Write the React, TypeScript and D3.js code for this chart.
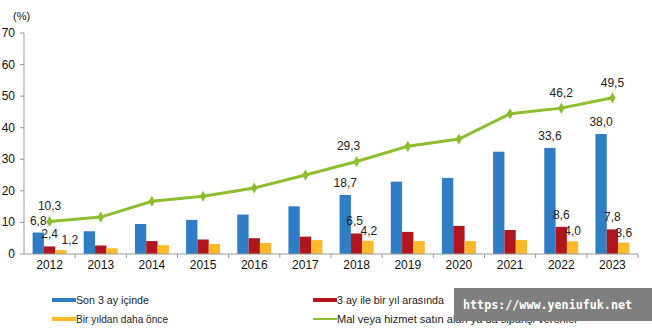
import React from "react";
import * as d3 from "d3";

const years = ["2012","2013","2014","2015","2016","2017","2018","2019","2020","2021","2022","2023"];
const son3Ay = [6.8, 7.2, 9.5, 10.8, 12.5, 15.1, 18.7, 22.9, 24.1, 32.4, 33.6, 38.0];
const ucAyBirYil = [2.4, 2.7, 4.1, 4.6, 5.0, 5.5, 6.5, 7.0, 8.9, 7.6, 8.6, 7.8];
const birYildanOnce = [1.2, 1.8, 2.8, 3.2, 3.5, 4.4, 4.2, 4.1, 4.1, 4.4, 4.0, 3.6];
const malHizmet = [10.3, 11.7, 16.7, 18.3, 20.9, 25.0, 29.3, 34.1, 36.4, 44.4, 46.2, 49.5];
const labelYears = ["2012", "2018", "2022", "2023"];
const yTicks = [0, 10, 20, 30, 40, 50, 60, 70];
const seriesNames = ["Son 3 ay içinde", "3 ay ile bir yıl arasında", "Bir yıldan daha önce", "Mal veya hizmet satın alan ya da siparişi verenler"];

const BLUE = "#2E7DC5";
const RED = "#B2161D";
const YELLOW = "#FDB92A";
const GREEN = "#8CBF2E";
const FONT = "'Liberation Sans', Arial, sans-serif";

const fmt = (v: number) => v.toFixed(1).replace(".", ",");

export default function App() {
  const W = 652, H = 331;
  const x = d3.scaleBand<string>().domain(years).range([24, 638]).padding(0);
  const inner = d3.scaleBand<string>().domain(["a", "b", "c"]).range([0, x.bandwidth()]).paddingInner(0).paddingOuter(0.76);
  const y = d3.scaleLinear().domain([0, 70]).range([254, 33]);
  const barSeries = [
    { key: "a", vals: son3Ay, color: BLUE, dy: -8 },
    { key: "b", vals: ucAyBirYil, color: RED, dy: -8 },
    { key: "c", vals: birYildanOnce, color: YELLOW, dy: -6 },
  ];
  const cx = (yr: string) => (x(yr) as number) + x.bandwidth() / 2;
  const line = d3.line<number>().x((_, i) => cx(years[i])).y((v) => y(v));

  return (
    <svg width={W} height={H} style={{ position: "absolute", left: 0, top: 0, background: "#fff" }} fontFamily={FONT}>
      <rect x={0} y={0} width={W} height={H} fill="#fff" />
      {/* y axis */}
      <line x1={24} x2={24} y1={y(70)} y2={y(0)} stroke="#999" strokeWidth={1} />
      {yTicks.map((t) => (
        <g key={t}>
          <line x1={20} x2={24} y1={y(t)} y2={y(t)} stroke="#999" />
          <text x={15} y={y(t) + 4} textAnchor="end" fontSize={12} fill="#111">{t}</text>
        </g>
      ))}
      <text x={13} y={20} fontSize={11} fill="#111">(%)</text>
      {/* bars */}
      {barSeries.map((s) =>
        years.map((yr, i) => (
          <rect key={s.key + yr} x={(x(yr) as number) + (inner(s.key) as number)} y={y(s.vals[i])}
            width={inner.bandwidth()} height={y(0) - y(s.vals[i])} fill={s.color} />
        ))
      )}
      {/* x axis */}
      <line x1={24} x2={638} y1={y(0)} y2={y(0)} stroke="#999" />
      {years.map((yr) => (
        <line key={"t" + yr} x1={(x(yr) as number) + x.bandwidth()} x2={(x(yr) as number) + x.bandwidth()} y1={y(0)} y2={y(0) + 4} stroke="#999" />
      ))}
      {years.map((yr) => (
        <text key={"l" + yr} x={cx(yr)} y={269} textAnchor="middle" fontSize={12} fill="#111">{yr}</text>
      ))}
      {/* line */}
      <path d={line(malHizmet) || ""} fill="none" stroke={GREEN} strokeWidth={3} />
      {malHizmet.map((v, i) => (
        <path key={"m" + i} d={d3.symbol(d3.symbolDiamond, 36)() || ""} transform={`translate(${cx(years[i])},${y(v)})`} fill={GREEN} />
      ))}
      {/* labels */}
      {barSeries.map((s) =>
        years.map((yr, i) => {
          if (!labelYears.includes(yr)) return null;
          const bx = (x(yr) as number) + (inner(s.key) as number) + inner.bandwidth() / 2;
          let extra = 0;
          if (s.key === "c" && yr === "2012") extra = 9;
          if (s.key === "b" && yr === "2018") extra = -2;
          if (s.key === "c" && yr === "2018") extra = 1;
          return (
            <text key={"bl" + s.key + yr} x={bx + extra} y={y(s.vals[i]) + s.dy} textAnchor="middle" fontSize={12} fill="#222">{fmt(s.vals[i])}</text>
          );
        })
      )}
      {years.map((yr, i) =>
        labelYears.includes(yr) ? (
          <text key={"ll" + yr} x={cx(yr) + (yr === "2018" ? -8 : 0)} y={y(malHizmet[i]) - 11} textAnchor="middle" fontSize={12} fill="#222">{fmt(malHizmet[i])}</text>
        ) : null
      )}
      {/* legend */}
      <rect x={52} y={298} width={24} height={4} fill={BLUE} />
      <text x={76} y={304} fontSize={11} fill="#222" textLength={73} lengthAdjust="spacingAndGlyphs">{seriesNames[0]}</text>
      <rect x={313} y={298} width={24} height={4} fill={RED} />
      <text x={337} y={304} fontSize={11} fill="#222" textLength={107} lengthAdjust="spacingAndGlyphs">{seriesNames[1]}</text>
      <rect x={52} y={317} width={24} height={4} fill={YELLOW} />
      <text x={76} y={323} fontSize={11} fill="#222" textLength={92} lengthAdjust="spacingAndGlyphs">{seriesNames[2]}</text>
      <line x1={313} x2={337} y1={319} y2={319} stroke={GREEN} strokeWidth={2} />
      <text x={337} y={323} fontSize={11} fill="#222" textLength={241} lengthAdjust="spacingAndGlyphs">{seriesNames[3]}</text>
      {/* watermark */}
      <rect x={454} y={288} width={198} height={33} fill="#7f7f7f" />
      <text x={463} y={309} fontSize={12} fontWeight="bold" fill="#fff" fontFamily="'DejaVu Sans Mono', monospace" textLength={169} lengthAdjust="spacingAndGlyphs">https://www.yeniufuk.net</text>
    </svg>
  );
}
